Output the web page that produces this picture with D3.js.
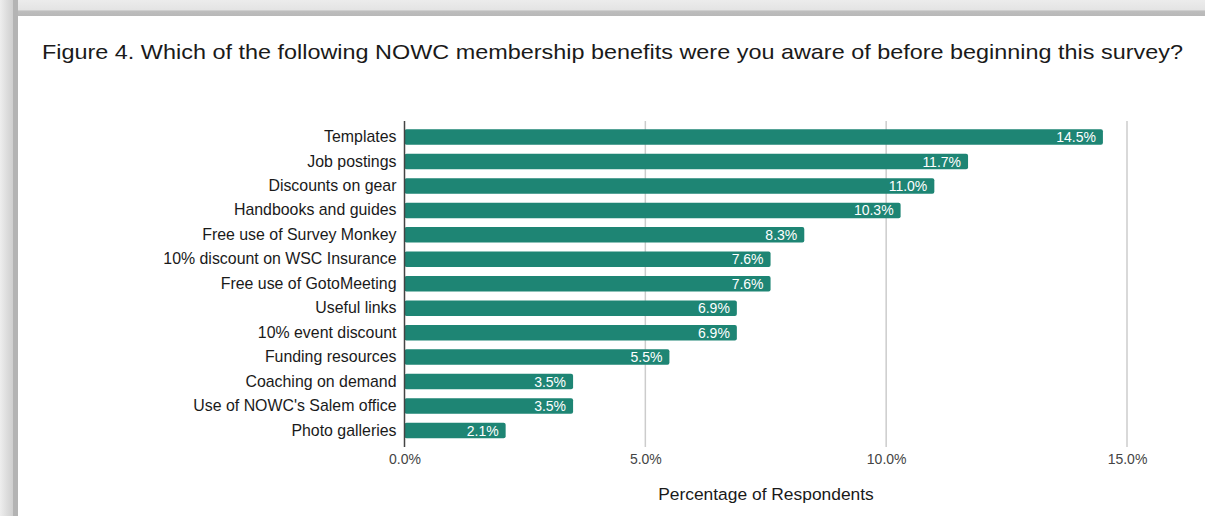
<!DOCTYPE html>
<html>
<head>
<meta charset="utf-8">
<script src="https://cdn.jsdelivr.net/npm/d3@7"></script>
<style>
  body { margin: 0; background: #fff; }
  svg { display: block; font-family: "Liberation Sans", Arial, sans-serif; }
</style>
</head>
<body>
<svg id="chart" width="1205" height="516"></svg>
<script>
var categories = [
  "Templates", "Job postings", "Discounts on gear", "Handbooks and guides",
  "Free use of Survey Monkey", "10% discount on WSC Insurance", "Free use of GotoMeeting",
  "Useful links", "10% event discount", "Funding resources", "Coaching on demand",
  "Use of NOWC's Salem office", "Photo galleries"
];
var values = [14.5, 11.7, 11.0, 10.3, 8.3, 7.6, 7.6, 6.9, 6.9, 5.5, 3.5, 3.5, 2.1];
var xTicks = [0, 5, 10, 15];

var title = "Figure 4. Which of the following NOWC membership benefits were you aware of before beginning this survey?";
var xTitle = "Percentage of Respondents";

var barColor = "#1e8574";

var svg = d3.select("#chart");
var defs = svg.append("defs");

// frame shadow along top and left edges
var gTop = defs.append("linearGradient").attr("id", "gTop")
  .attr("x1", 0).attr("y1", 0).attr("x2", 0).attr("y2", 1);
gTop.append("stop").attr("offset", "0%").attr("stop-color", "#ececec");
gTop.append("stop").attr("offset", "60%").attr("stop-color", "#e4e4e4");
gTop.append("stop").attr("offset", "70%").attr("stop-color", "#bdbdbd");
gTop.append("stop").attr("offset", "100%").attr("stop-color", "#b8b8b8");

var gLeft = defs.append("linearGradient").attr("id", "gLeft")
  .attr("x1", 0).attr("y1", 0).attr("x2", 1).attr("y2", 0);
gLeft.append("stop").attr("offset", "0%").attr("stop-color", "#eeeeee");
gLeft.append("stop").attr("offset", "40%").attr("stop-color", "#dcdcdc");
gLeft.append("stop").attr("offset", "72%").attr("stop-color", "#cfcfcf");
gLeft.append("stop").attr("offset", "75%").attr("stop-color", "#b4b4b4");
gLeft.append("stop").attr("offset", "100%").attr("stop-color", "#b4b4b4");

svg.append("rect").attr("x", 0).attr("y", 0).attr("width", 1205).attr("height", 16)
  .attr("fill", "url(#gTop)");
svg.append("rect").attr("x", 0).attr("y", 0).attr("width", 18).attr("height", 516)
  .attr("fill", "url(#gLeft)");

svg.append("text")
  .attr("x", 42).attr("y", 59)
  .attr("font-size", 21)
  .attr("textLength", 1141)
  .attr("lengthAdjust", "spacingAndGlyphs")
  .attr("fill", "#1a1a1a")
  .text(title);

var x = d3.scaleLinear().domain([0, 15]).range([404.5, 1127]);
var y = d3.scaleBand().domain(categories).range([124.8, 442.7]).paddingInner(0.366).paddingOuter(0.183);

// gridlines
svg.append("g").selectAll("line").data(xTicks.slice(1)).join("line")
  .attr("x1", function (d){ return x(d); })
  .attr("x2", function (d){ return x(d); })
  .attr("y1", 121).attr("y2", 447)
  .attr("stroke", "#cccccc").attr("stroke-width", 1.5);

// bars
svg.append("g").selectAll("rect").data(values).join("rect")
  .attr("x", x(0))
  .attr("y", function (d, i){ return y(categories[i]); })
  .attr("width", function (d){ return x(d) - x(0); })
  .attr("height", y.bandwidth())
  .attr("rx", 2)
  .attr("fill", barColor);

// value labels
svg.append("g").selectAll("text").data(values).join("text")
  .attr("x", function (d){ return x(d) - 7; })
  .attr("y", function (d, i){ return y(categories[i]) + y.bandwidth() / 2; })
  .attr("dy", "0.36em")
  .attr("text-anchor", "end")
  .attr("font-size", 14)
  .attr("fill", "#ffffff")
  .text(function (d){ return d.toFixed(1) + "%"; });

// zero axis line
svg.append("line")
  .attr("x1", x(0)).attr("x2", x(0))
  .attr("y1", 121).attr("y2", 447)
  .attr("stroke", "#444").attr("stroke-width", 1.5);

// category labels
var yAxisG = svg.append("g")
  .attr("transform", "translate(" + (x(0) - 8) + ",0)")
  .call(d3.axisLeft(y).tickSize(0).tickPadding(0));
yAxisG.select(".domain").remove();
yAxisG.selectAll("text")
  .attr("font-family", "Liberation Sans, Arial, sans-serif")
  .attr("font-size", 15.9)
  .attr("fill", "#1a1a1a");

// x tick labels
var xAxisG = svg.append("g")
  .attr("transform", "translate(0,452)")
  .call(d3.axisBottom(x).tickValues(xTicks).tickSize(0).tickPadding(0)
    .tickFormat(function (d){ return d.toFixed(1) + "%"; }));
xAxisG.select(".domain").remove();
xAxisG.selectAll("text")
  .attr("dy", "0.85em")
  .attr("font-family", "Liberation Sans, Arial, sans-serif")
  .attr("font-size", 14)
  .attr("fill", "#444");

svg.append("text")
  .attr("x", 766).attr("y", 500)
  .attr("text-anchor", "middle")
  .attr("font-size", 17.4)
  .attr("fill", "#1a1a1a")
  .text(xTitle);
</script>
</body>
</html>
